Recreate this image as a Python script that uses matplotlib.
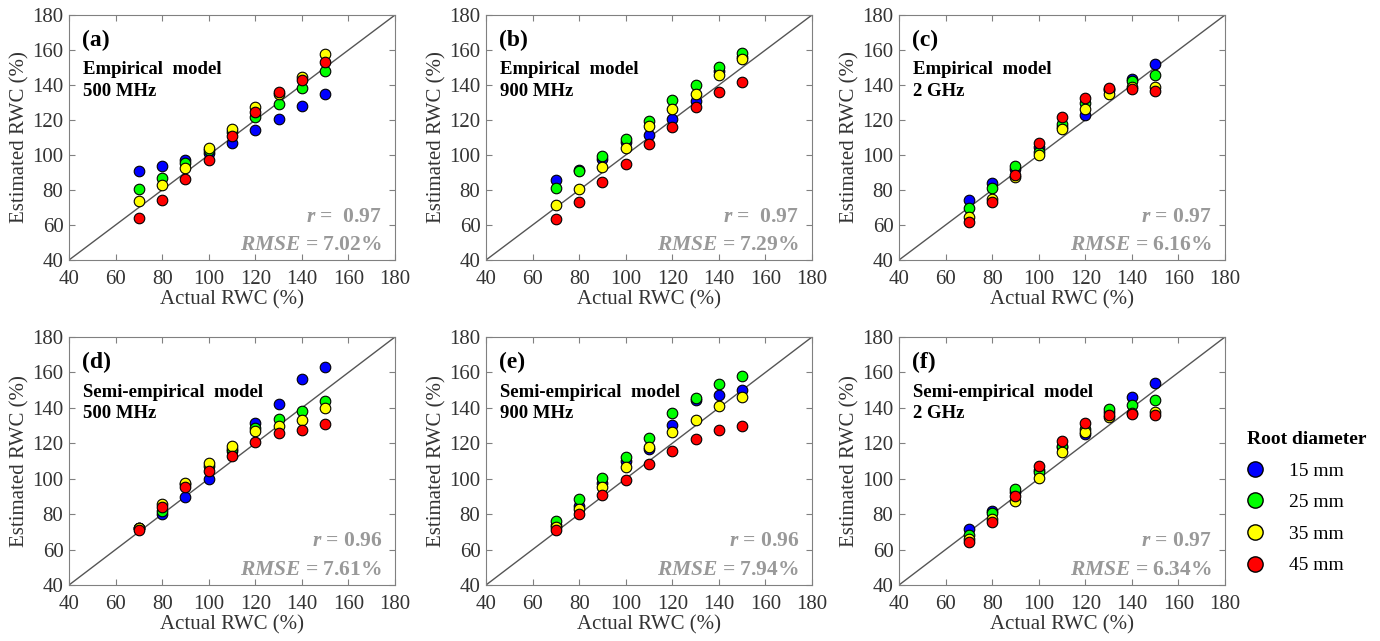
import matplotlib
matplotlib.use("Agg")
import matplotlib.pyplot as plt
from matplotlib.lines import Line2D

plt.rcParams.update({
    "font.family": ["Liberation Serif", "DejaVu Serif"],
    "font.size": 15,
    "mathtext.fontset": "custom",
    "mathtext.it": "Liberation Serif:italic:bold",
    "mathtext.rm": "Liberation Serif:bold",
    "axes.edgecolor": "#808080",
    "xtick.direction": "in", "ytick.direction": "in",
    "xtick.top": True, "ytick.right": True,
})

RWC = [70, 80, 90, 100, 110, 120, 130, 140, 150]
DIAMETERS = ["15 mm", "25 mm", "35 mm", "45 mm"]
COLORS = ["#0000ff", "#00ff00", "#ffff00", "#ff0000"]

# rows: 15, 25, 35, 45 mm
EMP_500 = [[91, 93.7, 97.1, 101, 107, 114.3, 120.4, 128, 134.7],
           [80.4, 86.7, 95.6, 103, 113, 121.9, 129.3, 138.1, 148],
           [73.7, 82.9, 92.8, 104.2, 114.9, 127.6, 134.7, 144.4, 157.7],
           [63.8, 74.3, 86.3, 97, 110.9, 124.8, 136, 142.9, 153]]
EMP_900 = [[85.7, 91.5, 98, 107.6, 111.4, 120.6, 131, 148, 156],
           [81, 90.9, 99.4, 109.3, 119.2, 131.2, 140.2, 150.5, 158.1],
           [71.4, 80.8, 93, 104.2, 116.4, 126.3, 135, 145.9, 154.7],
           [63.4, 73, 84.8, 94.9, 106.3, 116.2, 127.2, 136, 141.5]]
EMP_2G = [[74.3, 83.8, 92, 104.8, 116, 122.9, 137, 143.4, 151.8],
          [69.9, 81, 93.9, 101.9, 118, 129.5, 137.5, 142.3, 145.7],
          [64.8, 74.9, 87.2, 100, 114.9, 126.3, 134.7, 139, 139],
          [61.9, 73, 88.6, 106.7, 121.5, 132.8, 138.5, 137.9, 136.6]]
SEMI_500 = [[72, 79.9, 89.6, 99.7, 115.4, 131.4, 142.1, 156.5, 163],
            [72, 81.8, 97, 107, 117, 128.6, 133.7, 138.4, 143.6],
            [72, 85.6, 97.5, 108.8, 118.2, 127.2, 129.5, 133.3, 139.9],
            [71.1, 83.9, 95.6, 104.1, 112.9, 120.6, 125.7, 127.6, 130.8]]
SEMI_900 = [[74, 84.5, 97.7, 110, 116.6, 130.6, 144.6, 147.3, 150.3],
            [75.9, 88.6, 100.3, 112.5, 123.2, 136.9, 145.6, 153.5, 158.2],
            [72.7, 82.9, 95.4, 106.8, 118.1, 126.6, 133.3, 141.2, 146.3],
            [70.8, 80.1, 90.7, 99.4, 108.5, 115.7, 122.7, 127.6, 129.9]]
SEMI_2G = [[71.5, 81.9, 92.3, 105, 117.7, 125.5, 137.5, 146.4, 154.2],
           [68.3, 80.6, 94.2, 103.6, 118.3, 128, 139.4, 141.7, 144.7],
           [66.2, 77, 87.5, 100.6, 115.3, 126.2, 134.7, 137.2, 137.9],
           [64.3, 75.3, 90.4, 107.4, 121.5, 131.5, 136.2, 136.6, 135.7]]

PANELS = [
    ("(a)", "Empirical  model\n500 MHz", "$r$ =  0.97", "$RMSE$ = 7.02%", EMP_500),
    ("(b)", "Empirical  model\n900 MHz", "$r$ =  0.97", "$RMSE$ = 7.29%", EMP_900),
    ("(c)", "Empirical  model\n2 GHz", "$r$ = 0.97", "$RMSE$ = 6.16%", EMP_2G),
    ("(d)", "Semi-empirical  model\n500 MHz", "$r$ = 0.96", "$RMSE$ = 7.61%", SEMI_500),
    ("(e)", "Semi-empirical  model\n900 MHz", "$r$ = 0.96", "$RMSE$ = 7.94%", SEMI_900),
    ("(f)", "Semi-empirical  model\n2 GHz", "$r$ = 0.97", "$RMSE$ = 6.34%", SEMI_2G),
]

W, H = 1380, 641
fig = plt.figure(figsize=(W / 100, H / 100), dpi=100)
lefts = [69, 486, 899]
rows = [(15, 260), (337, 585)]

for i, (lab, model, rtxt, rmse, data) in enumerate(PANELS):
    top, bot = rows[i // 3]
    left = lefts[i % 3]
    ax = fig.add_axes([left / W, 1 - bot / H, 326 / W, (bot - top) / H])
    ax.plot([40, 180], [40, 180], color="#555555", lw=1, zorder=1)
    for vals, c in zip(data, COLORS):
        ax.scatter(RWC, vals, s=58, c=c, edgecolors="black", linewidths=0.8, zorder=3)
    ax.set_xlim(40, 180); ax.set_ylim(40, 180)
    ax.set_xticks(range(40, 181, 20)); ax.set_yticks(range(40, 181, 20))
    ax.tick_params(length=4, color="#808080", labelcolor="#333333", labelsize=15)
    ax.tick_params(axis="x", pad=7)
    ax.tick_params(axis="y", pad=4)
    ax.set_xlabel("Actual RWC (%)", fontsize=15, labelpad=1, color="#333333")
    ax.set_ylabel("Estimated RWC (%)", fontsize=15, labelpad=2, color="#333333")
    ax.text(0.04, 0.898, lab, transform=ax.transAxes, fontsize=17, fontweight="bold",
            va="center", ha="left")
    ax.text(0.043, 0.812, model, transform=ax.transAxes, fontsize=13.5, fontweight="bold",
            va="top", ha="left", linespacing=1.36)
    ax.text(0.96, 0.176, rtxt, transform=ax.transAxes, fontsize=15.5, fontweight="bold",
            color="#999999", va="center", ha="right")
    ax.text(0.96, 0.061, rmse, transform=ax.transAxes, fontsize=15.5, fontweight="bold",
            color="#999999", va="center", ha="right")

handles = [Line2D([], [], ls="none", marker="o", markersize=11, markerfacecolor=c,
                  markeredgecolor="black", markeredgewidth=1) for c in COLORS]
leg = fig.legend(handles, DIAMETERS, loc="upper left", bbox_to_anchor=(1247 / W, 1 - 431 / H),
                 frameon=False, fontsize=14, title="Root diameter", alignment="left",
                 title_fontproperties={"weight": "bold", "size": 14},
                 handlelength=0.8, handletextpad=1.35, labelspacing=0.72, borderpad=0,
                 borderaxespad=0)

fig.savefig("out.png", dpi=100)
